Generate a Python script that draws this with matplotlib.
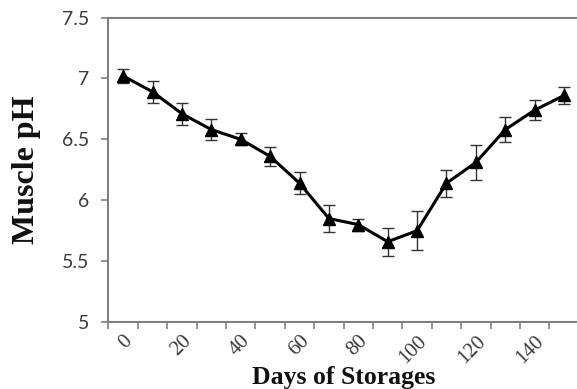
import matplotlib
matplotlib.use('Agg')
import matplotlib.pyplot as plt
import numpy as np

# storage days (one category every 10 days), labels shown every 20 days
days = [0, 10, 20, 30, 40, 50, 60, 70, 80, 90, 100, 110, 120, 130, 140, 150]
ph = [7.02, 6.89, 6.71, 6.58, 6.50, 6.36, 6.14, 5.85, 5.80, 5.66, 5.75, 6.14, 6.31, 6.58, 6.74, 6.86]
ph_err = [0.06, 0.09, 0.09, 0.085, 0.05, 0.075, 0.09, 0.11, 0.05, 0.115, 0.16, 0.11, 0.14, 0.10, 0.085, 0.07]
tick_labels = ['0', '20', '40', '60', '80', '100', '120', '140']

spine_col = '#7f7f7f'
text_col = '#3a3a3a'

fig = plt.figure(figsize=(5.77, 3.89), dpi=100)
ax = fig.add_axes([0.188, 0.172, 0.815, 0.783])

x = np.arange(len(days))
ax.errorbar(x, ph, yerr=ph_err, color='black', lw=2.2, marker='^', ms=8,
            ecolor='#333333', elinewidth=1, capsize=4, capthick=1)

ax.set_xlim(-0.5, len(days) - 0.5)
ax.set_ylim(5, 7.5)
ax.set_yticks([5, 5.5, 6, 6.5, 7, 7.5])
ax.set_yticklabels(['5', '5.5', '6', '6.5', '7', '7.5'], fontfamily='Lato',
                   fontsize=14, color=text_col)

# tick marks between categories, labels on every other category
ax.set_xticks(np.arange(-0.5, len(days), 1), minor=False)
ax.set_xticklabels([])
ax.set_xticks(x[::2], minor=True)
ax.set_xticklabels(tick_labels, minor=True, rotation=45, ha='right',
                   va='top', rotation_mode='anchor', fontfamily='Liberation Serif',
                   fontsize=15, color=text_col)
ax.tick_params(axis='x', which='minor', length=0, pad=7)
ax.tick_params(axis='x', which='major', length=5, color=spine_col, width=1.2)
ax.tick_params(axis='y', length=5, color=spine_col, width=1.2, pad=9)

for side in ['left', 'bottom', 'top', 'right']:
    ax.spines[side].set_color(spine_col)
    ax.spines[side].set_linewidth(1.5)

ax.set_xlabel('Days of Storages', fontfamily='Liberation Serif', fontweight='bold',
              fontsize=18.5, color='#111111', labelpad=-1)
ax.set_ylabel('Muscle pH', fontfamily='Liberation Serif', fontweight='bold',
              fontsize=23, color='#111111', labelpad=15)

fig.savefig('out.png', dpi=100)
